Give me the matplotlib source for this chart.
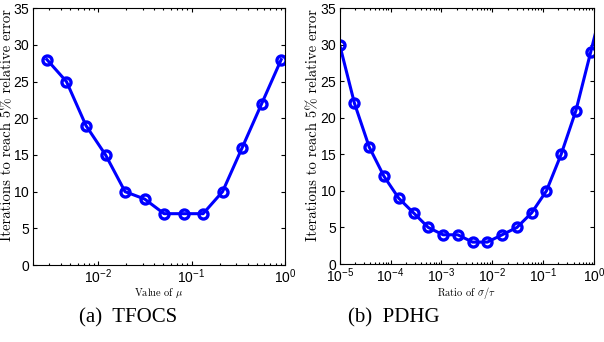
import matplotlib
matplotlib.use('Agg')
import matplotlib.pyplot as plt

# (a) TFOCS: iterations vs mu
mu = [0.00282, 0.00457, 0.00740, 0.0120, 0.0194, 0.0314, 0.0508,
      0.0822, 0.133, 0.215, 0.349, 0.565, 0.914]
iters_tfocs = [28, 25, 19, 15, 10, 9, 7, 7, 7, 10, 16, 22, 28]

# (b) PDHG: iterations vs sigma/tau
ratio = [1.0e-5, 1.95e-5, 3.81e-5, 7.43e-5, 1.45e-4, 2.83e-4, 5.52e-4,
         1.08e-3, 2.10e-3, 4.10e-3, 8.00e-3, 1.56e-2, 3.05e-2, 5.95e-2,
         0.116, 0.226, 0.442, 0.862, 1.68]
iters_pdhg = [30, 22, 16, 12, 9, 7, 5, 4, 4, 3, 3, 4, 5, 7, 10, 15, 21, 29, 37]

plt.rcParams['mathtext.fontset'] = 'cm'
plt.rcParams['axes.formatter.use_mathtext'] = True
tick_font = ['Liberation Sans']

fig = plt.figure(figsize=(6.04, 3.42), dpi=100)
ax1 = fig.add_axes([0.0546, 0.225, 0.417, 0.751])
ax2 = fig.add_axes([0.5624, 0.228, 0.421, 0.748])

for ax, x, y, lx in [(ax1, mu, iters_tfocs, -0.076), (ax2, ratio, iters_pdhg, -0.078)]:
    ax.plot(x, y, '-o', color='#0000ff', lw=2.2, ms=6.5, mfc='none', mew=2.4)
    ax.set_xscale('log')
    ax.set_ylim(0, 35)
    ax.set_yticks(range(0, 36, 5))
    ax.tick_params(which='both', direction='in', top=True, right=True,
                   labelsize=10, width=0.8, pad=2)
    ax.tick_params(which='major', length=3)
    ax.tick_params(which='minor', length=1.5)
    for lbl in ax.get_xticklabels() + ax.get_yticklabels():
        lbl.set_fontfamily(tick_font)
    for s in ax.spines.values():
        s.set_linewidth(0.8)
    ax.set_ylabel('Iterations to reach 5% relative error', family='cmr10', size=10.6)
    ax.yaxis.set_label_coords(lx, 0.545)

ax1.set_xlim(0.002, 1)
ax2.set_xlim(1e-5, 1)
ax1.set_xlabel(r'Value of $\mu$', labelpad=0, family='cmr10', size=7.5)
ax2.set_xlabel(r'Ratio of $\sigma/\tau$', labelpad=0, family='cmr10', size=7.5)

fig.text(0.212, 0.07, '(a)  TFOCS', ha='center', va='center',
         family='Liberation Serif', size=15)
fig.text(0.652, 0.07, '(b)  PDHG', ha='center', va='center',
         family='Liberation Serif', size=15)

fig.savefig('out.png', dpi=100)
